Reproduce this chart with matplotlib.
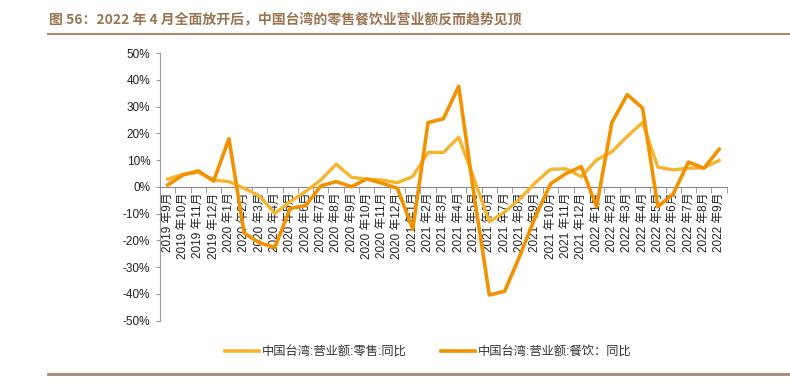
import matplotlib
matplotlib.use("Agg")
import matplotlib.pyplot as plt
from matplotlib.lines import Line2D

plt.rcParams['font.family'] = ['Liberation Sans', 'Noto Sans CJK SC', 'DejaVu Sans']

months = []
for y, m in [(2019, m) for m in range(9, 13)] + [(2020, m) for m in range(1, 13)] + \
        [(2021, m) for m in range(1, 13)] + [(2022, m) for m in range(1, 10)]:
    months.append(f"{y} 年{m}月")

# 中国台湾:营业额:零售:同比 (%)
retail = [2.9, 4.7, 5.5, 2.6, 2.0, -0.5, -3.4, -9.9, -5.5, -1.7, 2.6, 8.5,
          3.6, 2.9, 2.6, 1.6, 3.9, 12.9, 12.9, 18.6, 3.0, -13.0, -9.4, -4.4,
          1.6, 6.6, 6.8, 3.9, 10.1, 13.2, 18.9, 24.1, 7.4, 6.4, 7.0, 7.2, 9.9]
# 中国台湾:营业额:餐饮：同比 (%)
dining = [0.7, 4.5, 6.0, 2.2, 18.0, -17.3, -20.9, -22.6, -8.0, -7.0, 0.4, 2.0,
          0.1, 3.0, 1.4, -0.5, -15.8, 24.1, 25.5, 37.6, -3.0, -40.4, -39.0, -25.6,
          -11.2, 1.2, 5.0, 7.6, -7.4, 24.1, 34.5, 29.5, -7.4, -2.6, 9.3, 7.0, 14.1]

label_retail = "中国台湾:营业额:零售:同比"
label_dining = "中国台湾:营业额:餐饮：同比"
title = "图 56：2022 年 4 月全面放开后，中国台湾的零售餐饮业营业额反而趋势见顶"

c_retail = "#F7B52E"
c_dining = "#F39200"
brown = "#A88A6E"

fig = plt.figure(figsize=(7.9, 3.83), dpi=100)
ax = fig.add_axes([0.2025, 0.1627, 0.7175, 0.6983])

x = list(range(len(months)))
ax.plot(x, retail, color=c_retail, lw=2.4, zorder=3)
ax.plot(x, dining, color=c_dining, lw=2.6, zorder=4)

ax.set_xlim(-0.5, len(months) - 0.5)
ax.set_ylim(-50, 50)
ax.set_yticks(range(-50, 51, 10))
ax.set_yticklabels([f"{v}%" for v in range(-50, 51, 10)], fontsize=8.5, color="#222222")

for s in ['top', 'right']:
    ax.spines[s].set_visible(False)
ax.spines['bottom'].set_position(('data', 0))
ax.spines['bottom'].set_color("#888888")
ax.spines['left'].set_color("#999999")
ax.tick_params(axis='y', length=3, color="#999999", pad=4)

ax.set_xticks(x)
ax.set_xticklabels(months, rotation=90, fontsize=8.5, color="#222222", va='top')
ax.tick_params(axis='x', which='major', length=0, pad=4)
ax.set_xticks([i - 0.5 for i in range(len(months) + 1)], minor=True)
ax.tick_params(axis='x', which='minor', length=4, color="#888888", direction='out')

handles = [Line2D([], [], color=c_retail, lw=2.6), Line2D([], [], color=c_dining, lw=2.6)]
fig.legend(handles, [label_retail, label_dining], loc='center', bbox_to_anchor=(0.542, 1 - 352 / 383),
           ncol=2, frameon=False, fontsize=8.8, handlelength=2.8, handletextpad=0.2,
           columnspacing=2.8, labelcolor="#333333")

fig.text(49 / 790, 1 - 20 / 383, title, fontsize=10, fontweight='bold', color="#9A7552",
         va='center', ha='left', family=['Noto Sans CJK SC', 'DejaVu Sans'])
fig.add_artist(Line2D([48 / 790, 1], [1 - 34 / 383, 1 - 34 / 383], color=brown, lw=1.5))
fig.add_artist(Line2D([48 / 790, 1], [1 - 374 / 383, 1 - 374 / 383], color=brown, lw=2.0))

fig.savefig("out.png", dpi=100)
